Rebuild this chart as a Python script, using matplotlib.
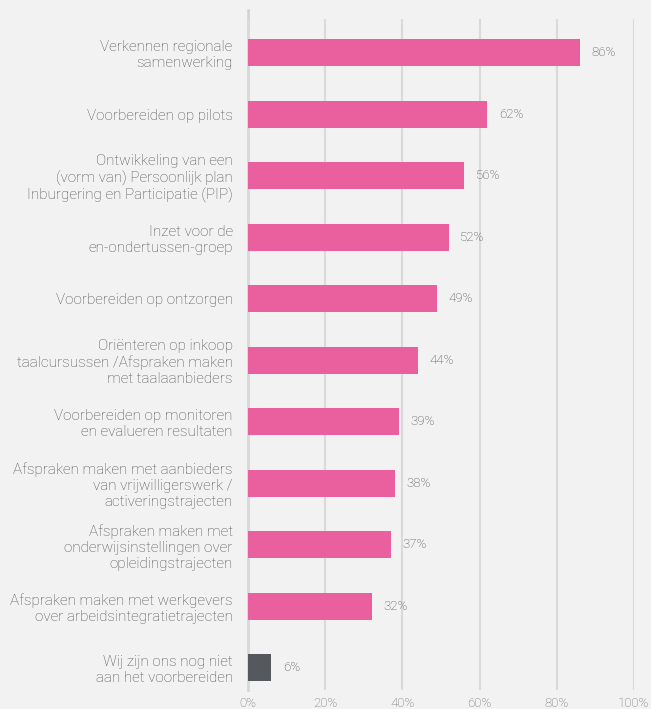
import matplotlib.pyplot as plt
import numpy as np

# Data
labels = [
    "Verkennen regionale\nsamenwerking",
    "Voorbereiden op pilots",
    "Ontwikkeling van een\n(vorm van) Persoonlijk plan\nInburgering en Participatie (PIP)",
    "Inzet voor de\nen-ondertussen-groep",
    "Voorbereiden op ontzorgen",
    "Oriënteren op inkoop\ntaalcursussen /Afspraken maken\nmet taalaanbieders",
    "Voorbereiden op monitoren\nen evalueren resultaten",
    "Afspraken maken met aanbieders\nvan vrijwilligerswerk /\nactiveringstrajecten",
    "Afspraken maken met\nonderwijsinstellingen over\nopleidingstrajecten",
    "Afspraken maken met werkgevers\nover arbeidsintegratietrajecten",
    "Wij zijn ons nog niet\naan het voorbereiden",
]
values = [86, 62, 56, 52, 49, 44, 39, 38, 37, 32, 6]
xticks = [0, 20, 40, 60, 80, 100]

pink = "#EA609F"
grey_bar = "#55585D"
bg = "#F2F2F2"
txt = "#4E4E4E"

plt.rcParams["font.family"] = ["Roboto", "DejaVu Sans"]

fig = plt.figure(figsize=(6.51, 7.09), dpi=100, facecolor=bg)
ax = fig.add_axes([248 / 651, 1 - 690 / 709, (634 - 248) / 651, (690 - 19) / 709])
ax.set_facecolor(bg)

y = np.arange(len(values))
colors = [pink] * (len(values) - 1) + [grey_bar]
ax.barh(y, values, height=0.44, color=colors, zorder=3)

for yi, v in zip(y, values):
    ax.text(v + 3, yi, f"{v}%", va="center", ha="left", fontsize=9.5,
            color="#4A4A4A", fontweight="light")

ax.set_xlim(0, 100)
ax.set_ylim(10.36, -0.55)
ax.set_xticks(xticks)
ax.set_xticklabels([f"{t}%" for t in xticks], fontsize=9.5, color="#6A6A6A", fontweight="light")
ax.set_yticks(y)
ax.set_yticklabels(labels, fontsize=11, color=txt, fontweight="light", linespacing=1.18)
ax.tick_params(axis="both", length=0)
ax.tick_params(axis="y", pad=11)
ax.tick_params(axis="x", pad=5)

ax.grid(axis="x", color="#DADADA", linewidth=1.5, zorder=0)
for s in ax.spines.values():
    s.set_visible(False)
# zero line extends a bit above the grid
ax.plot([0, 0], [10.36, -0.7], color="#D2D2D2", linewidth=1.8, clip_on=False, zorder=1)

fig.savefig("out.png", dpi=100, facecolor=bg)
